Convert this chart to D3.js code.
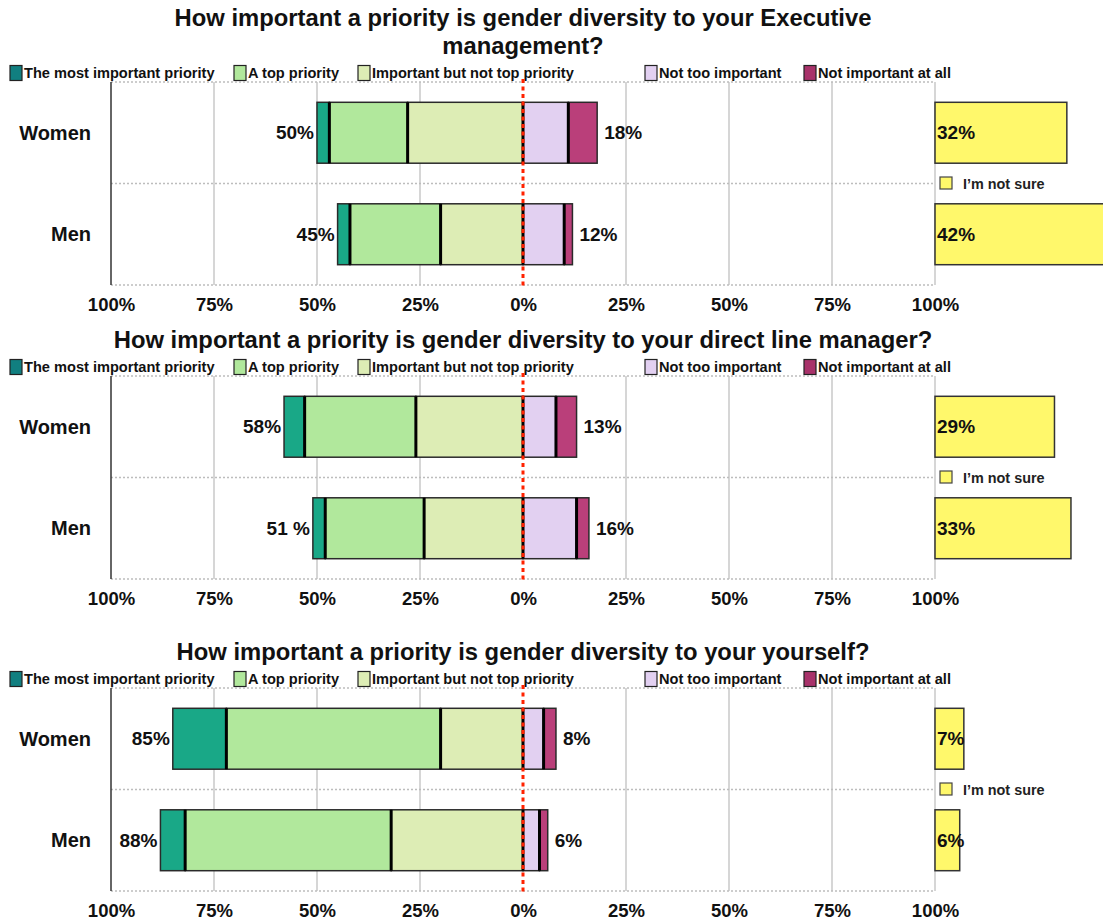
<!DOCTYPE html>
<html>
<head>
<meta charset="utf-8">
<script src="https://cdn.jsdelivr.net/npm/d3@7"></script>
<style>
  html, body { margin: 0; padding: 0; background: #fff; }
  svg { display: block; font-family: "Liberation Sans", Arial, Helvetica, sans-serif; }
</style>
</head>
<body>
<svg id="chart" width="1103" height="921"></svg>
<script>
// Answer categories, from most to least important
const categories = [
  "The most important priority",
  "A top priority",
  "Important but not top priority",
  "Not too important",
  "Not important at all"
];
const groups = ["Women", "Men"];
const notSureLabel = "I’m not sure";

// Question titles (one line per entry)
const titleExec = ["How important a priority is gender diversity to your Executive", "management?"];
const titleLine = ["How important a priority is gender diversity to your direct line manager?"];
const titleSelf = ["How important a priority is gender diversity to your yourself?"];

// Share of respondents (%) per category, order as in `categories`
const execWomen = [3, 19, 28, 11, 7];
const execMen   = [3, 22, 20, 10, 2];
const lineWomen = [5, 27, 26, 8, 5];
const lineMen   = [3, 24, 24, 13, 3];
const selfWomen = [13, 52, 20, 5, 3];
const selfMen   = [6, 50, 32, 4, 2];

// "I'm not sure" share (%) for Women, Men
const notSureExec = [32, 42];
const notSureLine = [29, 33];
const notSureSelf = [7, 6];

// Total labels: important side (left) and not-important side (right)
const execLeftLabels  = ["50%", "45%"];
const execRightLabels = ["18%", "12%"];
const lineLeftLabels  = ["58%", "51 %"];
const lineRightLabels = ["13%", "16%"];
const selfLeftLabels  = ["85%", "88%"];
const selfRightLabels = ["8%", "6%"];

// Axis tick values and labels
const tickValues = [-100, -75, -50, -25, 0, 25, 50, 75, 100];
const tickLabels = ["100%", "75%", "50%", "25%", "0%", "25%", "50%", "75%", "100%"];

// ---- styling ----
const barColors    = ["#19a887", "#b1e89c", "#ddedb5", "#e2d0f1", "#ba3f7a"];
const swatchColors = ["#117f80", "#b1e89c", "#ddedb5", "#e2d0f1", "#a8326a"];
const notSureColor = "#fff86b";
const legendX = [10, 234, 358, 645, 804];

const svg = d3.select("#chart");
svg.append("rect").attr("width", 1103).attr("height", 921).attr("fill", "#fff");

const x = d3.scaleLinear().domain([-100, 100]).range([111, 935]);
const xNotSure = d3.scaleLinear().domain([0, 100]).range([x(100), x(100) + (x(100) - x(0))]);

const panels = [
  { title: titleExec, rows: [execWomen, execMen], notSure: notSureExec,
    left: execLeftLabels, right: execRightLabels, top: 82 },
  { title: titleLine, rows: [lineWomen, lineMen], notSure: notSureLine,
    left: lineLeftLabels, right: lineRightLabels, top: 376 },
  { title: titleSelf, rows: [selfWomen, selfMen], notSure: notSureSelf,
    left: selfLeftLabels, right: selfRightLabels, top: 688 }
];

const plotH = 203;

panels.forEach(p => {
  const g = svg.append("g");
  const y = d3.scaleBand().domain(groups).range([p.top, p.top + plotH]).paddingInner(0.4).paddingOuter(0.2);
  const yRow = d3.scaleBand().domain(groups).range([p.top, p.top + plotH]);

  // Title
  const nLines = p.title.length;
  p.title.forEach((line, i) => {
    g.append("text")
      .attr("x", x(0)).attr("y", p.top - 37 - (nLines - 1 - i) * 28)
      .attr("text-anchor", "middle").attr("dominant-baseline", "central")
      .attr("font-size", 23.8).attr("font-weight", "bold").attr("fill", "#111")
      .text(line);
  });

  // Legend
  const lg = g.append("g").attr("transform", `translate(0,${p.top - 9})`);
  categories.forEach((c, i) => {
    lg.append("rect").attr("x", legendX[i]).attr("y", -7.5).attr("width", 12).attr("height", 15)
      .attr("fill", swatchColors[i]).attr("stroke", "#222").attr("stroke-width", 1.2);
    lg.append("text").attr("x", legendX[i] + 14).attr("y", 0)
      .attr("dominant-baseline", "central").attr("font-size", 14.6).attr("font-weight", "bold")
      .attr("fill", "#111").text(c);
  });

  // Vertical gridlines
  g.append("g").selectAll("line").data(tickValues.filter(v => v !== -100 && v !== 0))
    .join("line")
    .attr("x1", d => x(d)).attr("x2", d => x(d))
    .attr("y1", p.top).attr("y2", p.top + plotH)
    .attr("stroke", "#c8c8c8").attr("stroke-width", 1.5);

  // Horizontal dotted row separators
  const hLines = [p.top, p.top + plotH / 2, p.top + plotH];
  g.append("g").selectAll("line").data(hLines).join("line")
    .attr("x1", x(-100)).attr("x2", x(100))
    .attr("y1", d => d).attr("y2", d => d)
    .attr("stroke", "#bdbdbd").attr("stroke-width", 1.3).attr("stroke-dasharray", "2,2");

  // Left axis line
  g.append("line").attr("x1", x(-100)).attr("x2", x(-100))
    .attr("y1", p.top).attr("y2", p.top + plotH)
    .attr("stroke", "#333").attr("stroke-width", 1.5);

  // Tick labels via d3 axis
  const axis = d3.axisBottom(x).tickValues(tickValues)
    .tickFormat((d, i) => tickLabels[i]).tickSize(0).tickPadding(0);
  const ag = g.append("g").attr("transform", `translate(0,${p.top + plotH + 13})`).call(axis);
  ag.select(".domain").remove();
  ag.selectAll("text").attr("font-size", 18.5).attr("font-weight", "bold")
    .attr("fill", "#111").attr("font-family", "Liberation Sans, Arial, sans-serif")
    .attr("dy", "0.71em");

  // Row labels
  groups.forEach(grp => {
    g.append("text").attr("x", 91).attr("y", yRow(grp) + yRow.bandwidth() / 2)
      .attr("text-anchor", "end").attr("dominant-baseline", "central")
      .attr("font-size", 20).attr("font-weight", "bold").attr("fill", "#111").text(grp);
  });

  // Diverging stacked bars
  p.rows.forEach((vals, r) => {
    const grp = groups[r];
    const by = y(grp), bh = y.bandwidth();
    const leftTotal = vals[0] + vals[1] + vals[2];
    const segs = [];
    let cur = -leftTotal;
    vals.forEach((v, i) => { segs.push({ i, x0: cur, x1: cur + v }); cur += v; });

    const bg = g.append("g");
    bg.selectAll("rect").data(segs).join("rect")
      .attr("x", d => x(d.x0)).attr("width", d => x(d.x1) - x(d.x0))
      .attr("y", by).attr("height", bh)
      .attr("fill", d => barColors[d.i]).attr("stroke", "#2a2a2a").attr("stroke-width", 1.5);
    // segment dividers
    bg.selectAll("line").data(segs.slice(1)).join("line")
      .attr("x1", d => x(d.x0)).attr("x2", d => x(d.x0))
      .attr("y1", by).attr("y2", by + bh)
      .attr("stroke", "#000").attr("stroke-width", 3);

    // Totals
    g.append("text").attr("x", x(-leftTotal) - 3).attr("y", by + bh / 2)
      .attr("text-anchor", "end").attr("dominant-baseline", "central")
      .attr("font-size", 19).attr("font-weight", "bold").attr("fill", "#111").text(p.left[r]);
    g.append("text").attr("x", x(cur) + 7).attr("y", by + bh / 2)
      .attr("dominant-baseline", "central")
      .attr("font-size", 19).attr("font-weight", "bold").attr("fill", "#111").text(p.right[r]);

    // "I'm not sure" bar
    const ns = p.notSure[r];
    g.append("rect").attr("x", xNotSure(0)).attr("width", xNotSure(ns) - xNotSure(0))
      .attr("y", by).attr("height", bh)
      .attr("fill", notSureColor).attr("stroke", "#333").attr("stroke-width", 1.5);
    g.append("text").attr("x", xNotSure(0) + 2).attr("y", by + bh / 2)
      .attr("dominant-baseline", "central")
      .attr("font-size", 19).attr("font-weight", "bold").attr("fill", "#111").text(ns + "%");
  });

  // "I'm not sure" legend on the middle separator
  const midY = p.top + plotH / 2;
  g.append("rect").attr("x", x(100) + 5).attr("y", midY - 6.5).attr("width", 12).attr("height", 12)
    .attr("fill", notSureColor).attr("stroke", "#444").attr("stroke-width", 1.2);
  g.append("text").attr("x", x(100) + 28).attr("y", midY)
    .attr("dominant-baseline", "central").attr("font-size", 14.4).attr("font-weight", "bold")
    .attr("fill", "#222").text(notSureLabel);

  // Zero reference line
  g.append("line").attr("x1", x(0)).attr("x2", x(0))
    .attr("y1", p.top - 3).attr("y2", p.top + plotH + 3)
    .attr("stroke", "#ff2200").attr("stroke-width", 3).attr("stroke-dasharray", "4,3.5");
});
</script>
</body>
</html>
